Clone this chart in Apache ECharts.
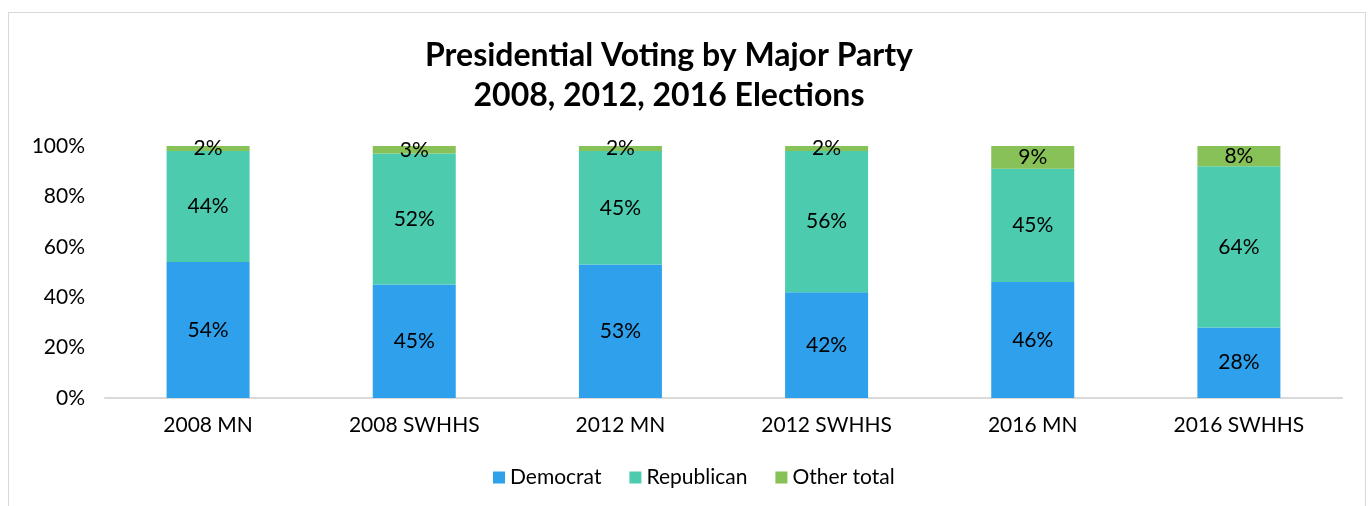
<!DOCTYPE html>
<html>
<head>
<meta charset="utf-8">
<script src="https://cdn.jsdelivr.net/npm/echarts@6/dist/echarts.min.js"></script>
<style>
  html, body { margin: 0; padding: 0; background: #fff; }
  #frame { position: absolute; left: 8px; top: 12px; width: 1358px; height: 520px; border: 1.5px solid #d9d9d9; box-sizing: border-box; }
  #grafico { position: absolute; left: 0; top: 0; width: 1371px; height: 506px; }
</style>
</head>
<body>
<div id="frame"></div>
<div id="grafico"></div>
<script>
// datos
const categories = ["2008 MN", "2008 SWHHS", "2012 MN", "2012 SWHHS", "2016 MN", "2016 SWHHS"];
const democrat = [54, 45, 53, 42, 46, 28];
const republican = [44, 52, 45, 56, 45, 64];
const otherTotal = [2, 3, 2, 2, 9, 8];
const yTicks = [0, 20, 40, 60, 80, 100];

const fontFam = "Lato, 'Noto Sans', sans-serif";

function serie(name, data, color) {
  return {
    name: name,
    type: "bar",
    stack: "total",
    barWidth: 83,
    data: data,
    itemStyle: { color: color },
    label: {
      show: true,
      position: "inside",
      formatter: "{c}%",
      color: "#000",
      fontFamily: fontFam,
      fontSize: 21
    }
  };
}

let options = {
  animation: false,
  title: {
    text: "Presidential Voting by Major Party\n2008, 2012, 2016 Elections",
    left: 664,
    textAlign: "center",
    top: 31,
    textStyle: {
      fontFamily: fontFam,
      fontWeight: "bold",
      fontSize: 32,
      lineHeight: 40,
      color: "#000"
    }
  },
  legend: {
    bottom: 13,
    left: 488,
    icon: "rect",
    itemWidth: 12,
    itemHeight: 12,
    itemGap: 28,
    textStyle: { fontFamily: fontFam, fontSize: 21, color: "#000" },
    data: ["Democrat", "Republican", "Other total"]
  },
  grid: { left: 105, right: 29, top: 146, bottom: 108 },
  xAxis: {
    type: "category",
    data: categories,
    axisLine: { lineStyle: { color: "#d9d9d9", width: 2 } },
    axisTick: { show: false },
    axisLabel: { color: "#000", fontFamily: fontFam, fontSize: 21, margin: 17 }
  },
  yAxis: {
    type: "value",
    min: yTicks[0],
    max: yTicks[yTicks.length - 1],
    interval: 20,
    axisLine: { show: false },
    axisTick: { show: false },
    splitLine: { show: false },
    axisLabel: { color: "#000", fontFamily: fontFam, fontSize: 21, margin: 20, formatter: "{value}%" }
  },
  series: [
    serie("Democrat", democrat, "#2ea0ec"),
    serie("Republican", republican, "#4ccbae"),
    serie("Other total", otherTotal, "#87c157")
  ]
};

let chart = echarts.init(document.getElementById("grafico"));
chart.setOption(options);
</script>
</body>
</html>
